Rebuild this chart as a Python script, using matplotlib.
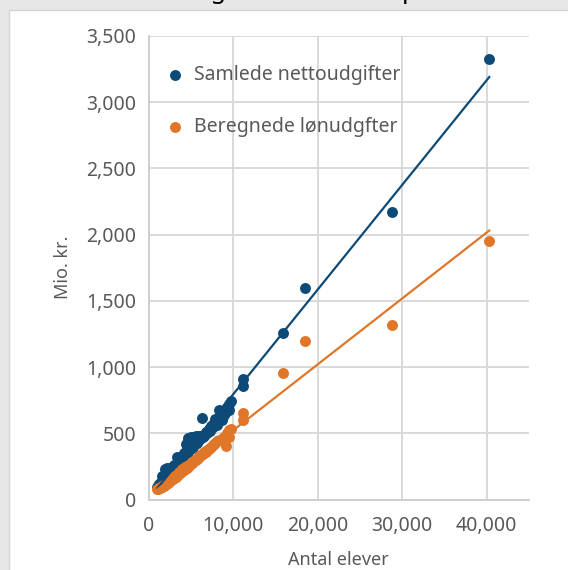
import numpy as np
from matplotlib import pyplot as plt
from matplotlib.patches import Rectangle
from matplotlib.ticker import FuncFormatter

plt.rcParams['font.family'] = ['Noto Sans', 'DejaVu Sans']

# antal elever pr. kommune og udgifter (mio. kr.)
elever = [40300, 28850, 18500, 15900, 11200, 11150, 9800, 9550, 9500, 9300,
          9200, 8900, 8700, 8300, 8100, 7900, 7700, 7600, 7400, 7300,
          7100, 6900, 6800, 6600, 6400, 6300, 6200, 6100, 6000, 5900,
          5800, 5700, 5600, 5500, 5400, 5300, 5200, 5100, 5000, 4900,
          4800, 4700, 4650, 4600, 4500, 4400, 4350, 4300, 4200, 4100,
          4000, 3950, 3900, 3800, 3700, 3650, 3600, 3500, 3400, 3350,
          3300, 3200, 3100, 3050, 3000, 2900, 2800, 2750, 2700, 2600,
          2500, 2450, 2400, 2300, 2200, 2150, 2100, 2000, 1950, 1900,
          1800, 1700, 1650, 1600, 1500, 1400, 1300, 1200, 1100, 1050]
netto = [3325, 2170, 1600, 1255, 910, 860, 745, 720, 675, 700,
         660, 640, 600, 675, 560, 610, 580, 545, 555, 520,
         530, 500, 510, 480, 470, 615, 480, 455, 480, 440,
         470, 430, 480, 420, 470, 400, 475, 390, 470, 380,
         420, 465, 360, 400, 350, 420, 340, 330, 350, 320,
         310, 330, 300, 310, 285, 300, 275, 280, 265, 320,
         255, 250, 245, 260, 235, 230, 220, 240, 210, 205,
         200, 235, 190, 185, 175, 235, 170, 160, 230, 155,
         150, 140, 175, 135, 130, 120, 115, 110, 105, 95]
loen = [1955, 1315, 1195, 955, 650, 600, 535, 525, 470, 500,
        405, 470, 455, 450, 440, 430, 420, 415, 400, 390,
        385, 375, 360, 355, 345, 340, 335, 330, 325, 315,
        310, 305, 300, 295, 290, 285, 280, 275, 270, 265,
        260, 255, 245, 250, 240, 235, 245, 230, 225, 220,
        215, 230, 210, 205, 200, 210, 195, 190, 185, 180,
        178, 172, 168, 175, 162, 158, 152, 160, 148, 142,
        138, 140, 132, 128, 122, 125, 118, 112, 115, 108,
        104, 100, 102, 96, 92, 90, 88, 85, 82, 80]

serie_navne = ['Samlede nettoudgifter', 'Beregnede lønudgfter']
farver = ['#0d4a77', '#e07628']

x = np.array(elever)
fig = plt.figure(figsize=(5.68, 5.70), dpi=100, facecolor='#e7e7e7')

# hvid baggrund (diagramområde)
fig.patches.append(Rectangle((9 / 568, -0.01), 1, (570 - 10) / 570 + 0.01, transform=fig.transFigure,
                             facecolor='white', edgecolor='#d4d4d4', lw=1, zorder=-5))
# titel, kun bunden er synlig
fig.text(177 / 568, 1 + 2 / 570, 'Udgifter vs. elevtal pr. kommune', fontsize=18,
         fontweight='bold', color='black', va='baseline', ha='left')

ax = fig.add_axes([148.5 / 568, (570 - 499.5) / 570, (529 - 148.5) / 568, (499.5 - 36) / 570])
ax.set_facecolor('white')

for y, navn, farve in zip([netto, loen], serie_navne, farver):
    y = np.array(y)
    ax.scatter(x, y, s=62, color=farve, label=navn, zorder=3, linewidths=0)
    k = np.polyfit(x, y, 1)
    xs = np.array([x.min(), x.max()])
    ax.plot(xs, np.polyval(k, xs), color=farve, lw=1.6, zorder=4)

ax.set_xlim(0, 45000)
ax.set_ylim(0, 3500)
ax.set_xticks(np.arange(0, 45000, 10000))
ax.set_yticks(np.arange(0, 3501, 500))
fmt = FuncFormatter(lambda v, p: f'{int(v):,}')
ax.xaxis.set_major_formatter(fmt)
ax.yaxis.set_major_formatter(fmt)
ax.grid(True, color='#d9d9d9', lw=1.4)
ax.set_axisbelow(True)
for s in ['top', 'right']:
    ax.spines[s].set_visible(False)
for s in ['left', 'bottom']:
    ax.spines[s].set_color('#cfcfcf')
    ax.spines[s].set_linewidth(1.4)
ax.tick_params(length=0, labelsize=14, labelcolor='#595959')
ax.tick_params(axis='x', pad=12)
ax.tick_params(axis='y', pad=9)
ax.set_xlabel('Antal elever', fontsize=13, color='#595959', labelpad=11)
ax.set_ylabel('Mio. kr.', fontsize=13, color='#595959', labelpad=10)

ax.legend(loc='upper left', bbox_to_anchor=(-0.002, 0.955), frameon=False, fontsize=14,
          labelcolor='#595959', labelspacing=1.65, handletextpad=0.0, markerscale=1.0,
          borderaxespad=0)

fig.savefig('out.png', dpi=100, facecolor=fig.get_facecolor())
